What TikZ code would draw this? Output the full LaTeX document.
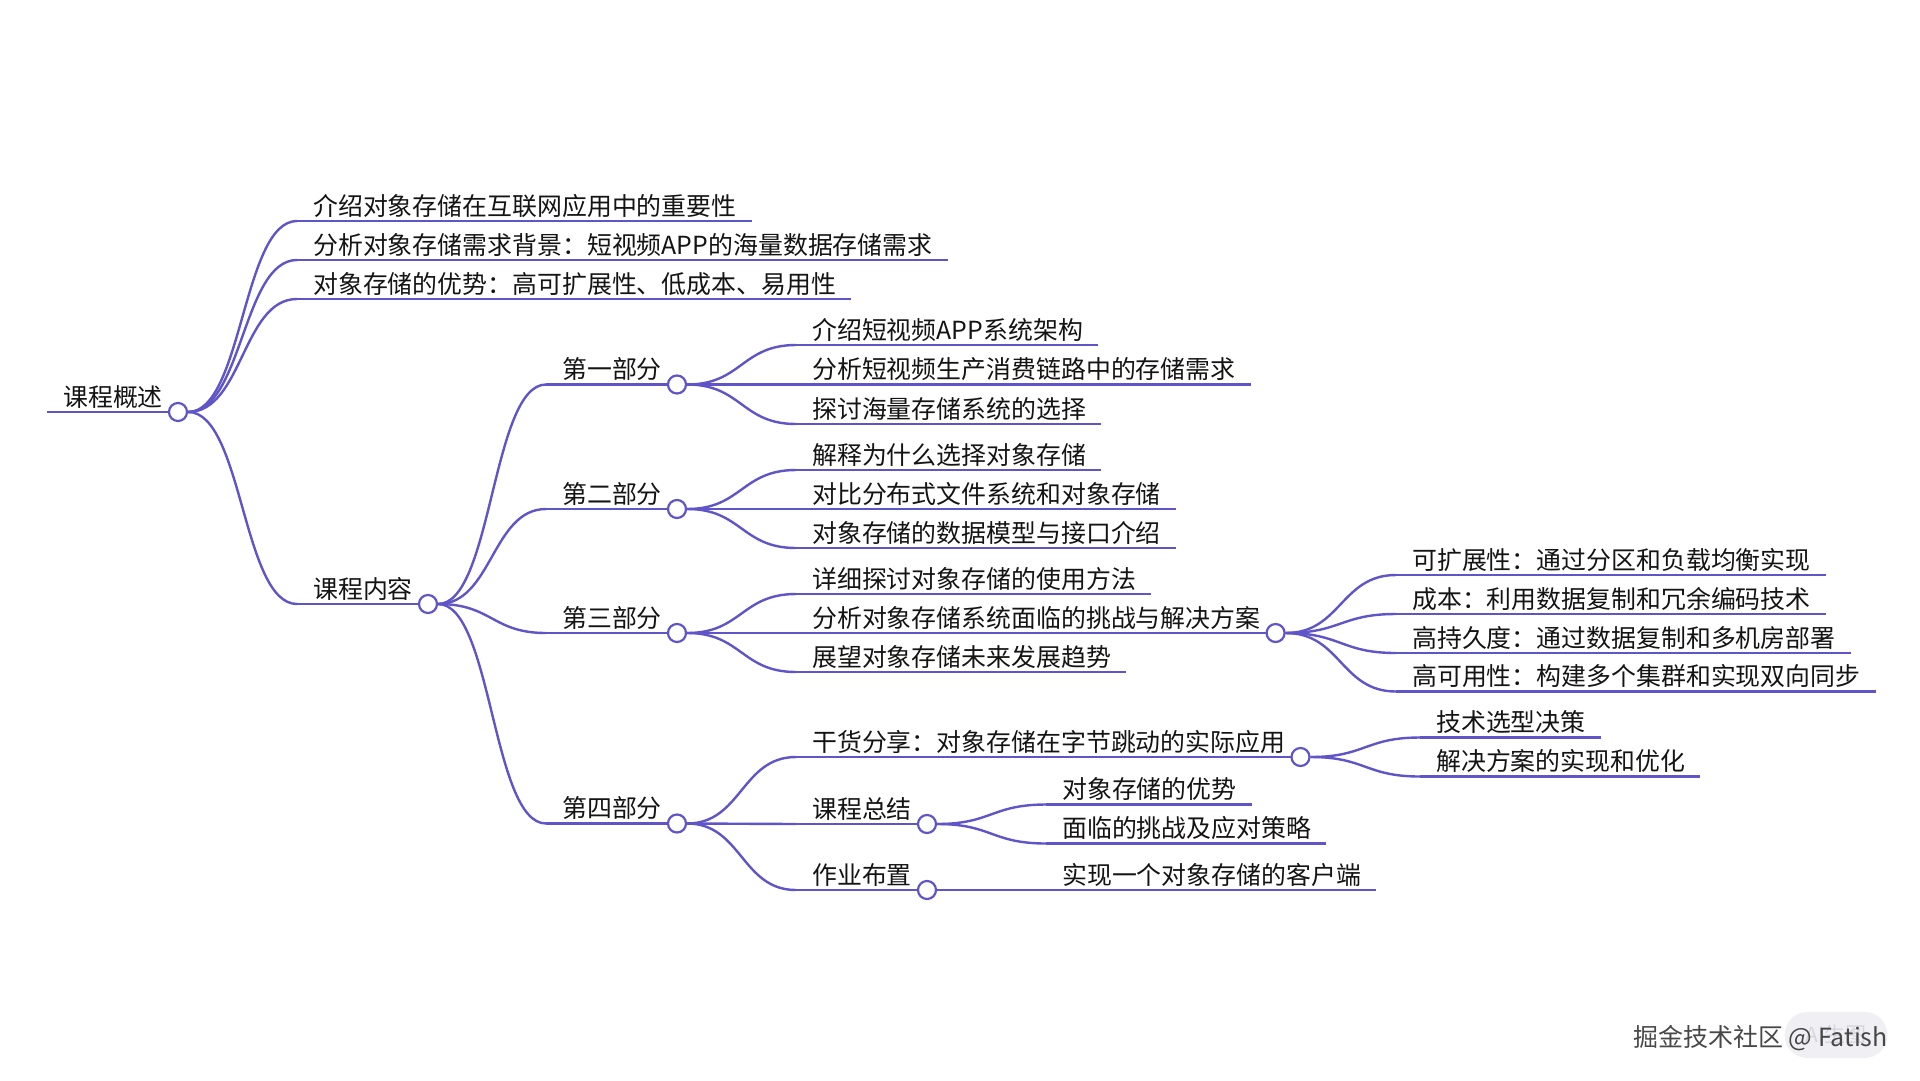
\documentclass[tikz,border=0pt]{standalone}
\usepackage{fontspec}
\usepackage{tikz}
\usetikzlibrary{calc}
\newfontfamily\cjk{Noto Sans CJK SC}
\definecolor{branch}{HTML}{5F55C8}
\definecolor{ink}{HTML}{141414}
\definecolor{mark}{HTML}{484848}
\definecolor{badgefill}{HTML}{F0F0F4}
\definecolor{badgetext}{HTML}{D6D6DC}

% one topic: start of its line, label, underline
\newcommand{\topic}[4]{%
  \coordinate (#1) at (#2,#3);
  \node[topic] (#1-t) at ([xshift=16pt,yshift=6pt]#1) {#4};
  \coordinate (#1-e) at ([xshift=15pt]#1 -| #1-t.east);
  \draw[stem] (#1) -- (#1-e);}
\newcommand{\knot}[1]{\node[knot] (#1-o) at (#1-e) {};}
\newcommand{\link}[2]{\draw[stem] let \p1=(#1-o.east), \p2=(#2) in
  (\p1) .. controls ({(\x1+\x2)/2},\y1) and ({(\x1+\x2)/2},\y2) .. (\p2);}

\begin{document}
\begin{tikzpicture}[x=1pt,y=-1pt,
    topic/.style={font=\cjk\fontsize{24.9}{30}\selectfont,text=ink,inner sep=0pt,anchor=base west},
    stem/.style={draw=branch,line width=2.4pt},
    knot/.style={circle,draw=branch,fill=white,line width=2.2pt,minimum size=18pt,inner sep=0pt},
    badge/.style={rounded corners=23pt,fill=badgefill,minimum width=103pt,minimum height=46pt,
      text=badgetext,font=\cjk\fontsize{21}{24}\selectfont}]
  \fill[white] (0,0) rectangle (1920,1080);
  \useasboundingbox (0,0) rectangle (1920,1080);

  % root
  \topic{overview}{47}{412}{课程概述} \knot{overview}
  \topic{why}{297}{221}{介绍对象存储在互联网应用中的重要性}
  \topic{need}{297}{260}{分析对象存储需求背景：短视频APP的海量数据存储需求}
  \topic{merit}{297}{299}{对象存储的优势：高可扩展性、低成本、易用性}
  \topic{content}{297}{604}{课程内容} \knot{content}

  % parts
  \topic{one}{546}{384.5}{第一部分} \knot{one}
  \topic{two}{546}{509}{第二部分} \knot{two}
  \topic{three}{546}{633}{第三部分} \knot{three}
  \topic{four}{546}{823.5}{第四部分} \knot{four}

  \topic{arch}{796}{345}{介绍短视频APP系统架构}
  \topic{flow}{796}{384.5}{分析短视频生产消费链路中的存储需求}
  \topic{pick}{796}{424}{探讨海量存储系统的选择}
  \topic{reason}{796}{470}{解释为什么选择对象存储}
  \topic{compare}{796}{509}{对比分布式文件系统和对象存储}
  \topic{model}{796}{548}{对象存储的数据模型与接口介绍}
  \topic{usage}{796}{594}{详细探讨对象存储的使用方法}
  \topic{challenge}{796}{633}{分析对象存储系统面临的挑战与解决方案} \knot{challenge}
  \topic{trend}{796}{672}{展望对象存储未来发展趋势}
  \topic{practice}{796}{757}{干货分享：对象存储在字节跳动的实际应用} \knot{practice}
  \topic{summary}{796}{824}{课程总结} \knot{summary}
  \topic{homework}{796}{890}{作业布置} \knot{homework}

  % leaves
  \topic{scale}{1396}{575}{可扩展性：通过分区和负载均衡实现}
  \topic{cost}{1396}{614}{成本：利用数据复制和冗余编码技术}
  \topic{durable}{1396}{653}{高持久度：通过数据复制和多机房部署}
  \topic{avail}{1396}{691.5}{高可用性：构建多个集群和实现双向同步}
  \topic{select}{1420}{737.5}{技术选型决策}
  \topic{optimise}{1420}{776.5}{解决方案的实现和优化}
  \topic{gain}{1046}{804.5}{对象存储的优势}
  \topic{cope}{1046}{843.5}{面临的挑战及应对策略}
  \topic{client}{1046}{890}{实现一个对象存储的客户端}

  % links
  \foreach \kid in {why,need,merit,content} {\link{overview}{\kid}}
  \foreach \kid in {one,two,three,four} {\link{content}{\kid}}
  \foreach \kid in {arch,flow,pick} {\link{one}{\kid}}
  \foreach \kid in {reason,compare,model} {\link{two}{\kid}}
  \foreach \kid in {usage,challenge,trend} {\link{three}{\kid}}
  \foreach \kid in {practice,summary,homework} {\link{four}{\kid}}
  \foreach \kid in {scale,cost,durable,avail} {\link{challenge}{\kid}}
  \foreach \kid in {select,optimise} {\link{practice}{\kid}}
  \foreach \kid in {gain,cope} {\link{summary}{\kid}}
  \link{homework}{client}

  % watermark
  \node[badge] (aibadge) at (1836,1035) {AI生图};
  \node[anchor=west,inner sep=0pt,text=mark,font=\cjk\fontsize{25}{28}\selectfont] (sign) at (1633,1038) {掘金技术社区 @ Fatish};
\end{tikzpicture}
\end{document}
